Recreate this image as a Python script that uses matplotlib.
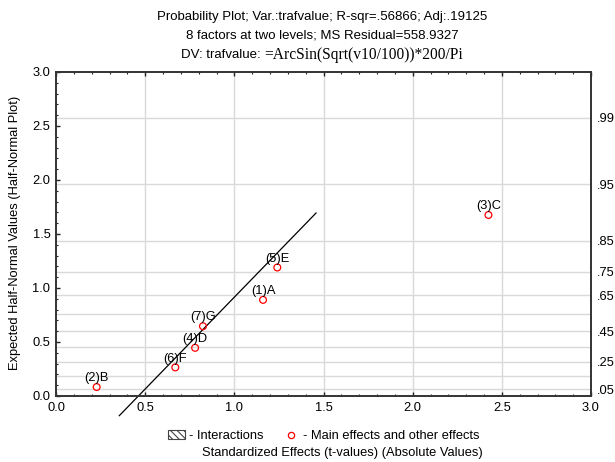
import matplotlib
matplotlib.use("Agg")
import matplotlib.pyplot as plt
from matplotlib.patches import Patch
from matplotlib.lines import Line2D
from matplotlib.ticker import MultipleLocator, FormatStrFormatter
from statistics import NormalDist

plt.rcParams['font.family'] = ['Liberation Sans', 'DejaVu Sans']
plt.rcParams['hatch.linewidth'] = 0.8

# ---- data ----
effect_labels = ["(1)A", "(2)B", "(3)C", "(4)D", "(5)E", "(6)F", "(7)G"]
t_abs = [1.161, 0.228, 2.425, 0.780, 1.241, 0.669, 0.824]
expected = [0.890, 0.083, 1.676, 0.446, 1.190, 0.265, 0.646]
fit_x = [0.355, 1.458]
fit_y = [-0.182, 1.694]
grid_probs = [.05, .15, .25, .35, .45, .55, .65, .75, .85, .95, .99]
label_probs = [.05, .25, .45, .65, .75, .85, .95, .99]
label_texts = [".05", ".25", ".45", ".65", ".75", ".85", ".95", ".99"]

title1 = "Probability Plot; Var.:trafvalue; R-sqr=.56866; Adj:.19125"
title2 = "8 factors at two levels; MS Residual=558.9327"
title3a = "DV: trafvalue: "
title3b = "=ArcSin(Sqrt(v10/100))*200/Pi"
xlabel = "Standardized Effects (t-values) (Absolute Values)"
ylabel = "Expected Half-Normal Values (Half-Normal Plot)"

FS = 9.3
TFS = 9.5

def hn(p):
    return NormalDist().inv_cdf((1 + p) / 2)

W, H = 615, 462
fig = plt.figure(figsize=(W/100, H/100), dpi=100)
ax = fig.add_axes([56/W, 1-396/H, (591-56)/W, (396-72)/H])
ax.set_xlim(0, 3)
ax.set_ylim(0, 3)

grid_c = '#d9d9d9'
for p in grid_probs:
    ax.axhline(hn(p), color=grid_c, lw=1.0, zorder=0)
for xv in [0.5, 1.0, 1.5, 2.0, 2.5]:
    ax.axvline(xv, color=grid_c, lw=1.0, zorder=0)

ax.plot(fit_x, fit_y, color='black', lw=0.9, clip_on=False, zorder=2)
ax.scatter(t_abs, expected, s=24, facecolors='none', edgecolors='red',
           linewidths=0.9, zorder=3)
for lab, xv, yv in zip(effect_labels, t_abs, expected):
    ax.annotate(lab, (xv, yv), xytext=(0, 2.0), textcoords='offset points',
                ha='center', va='bottom', fontsize=FS, zorder=4)

ax.xaxis.set_major_locator(MultipleLocator(0.5))
ax.xaxis.set_minor_locator(MultipleLocator(0.1))
ax.yaxis.set_major_locator(MultipleLocator(0.5))
ax.yaxis.set_minor_locator(MultipleLocator(0.1))
ax.xaxis.set_major_formatter(FormatStrFormatter('%.1f'))
ax.yaxis.set_major_formatter(FormatStrFormatter('%.1f'))
ax.tick_params(which='both', direction='in', top=True, right=True,
               labelsize=FS, color='#222222', pad=4)
ax.tick_params(which='major', length=3, width=1)
ax.tick_params(which='minor', length=1.6, width=0.8)
for sp in ax.spines.values():
    sp.set_linewidth(1.4)
    sp.set_color('#333333')

ax2 = ax.twinx()
ax2.set_ylim(0, 3)
ax2.set_yticks([hn(p) for p in label_probs])
ax2.set_yticklabels(label_texts)
ax2.tick_params(axis='y', length=0, labelsize=FS, pad=4.3)
for sp in ax2.spines.values():
    sp.set_visible(False)

fig.text(15/W, 1-233/H, ylabel, rotation=90, ha='center', va='center',
         fontsize=FS)

cx = 322
fig.text(cx/W, 1-17/H, title1, ha='center', va='center', fontsize=TFS)
fig.text(cx/W, 1-36/H, title2, ha='center', va='center', fontsize=TFS)
t3a = fig.text(cx/W, 1-55/H, title3a, ha='right', va='center', fontsize=TFS)
t3b = fig.text(cx/W, 1-55/H, title3b, ha='left', va='center', fontsize=11.2,
               family=['Liberation Serif', 'DejaVu Serif'])
fig.canvas.draw()
r = fig.canvas.get_renderer()
wa = t3a.get_window_extent(r).width
wb = t3b.get_window_extent(r).width
left = cx - (wa + wb)/2
t3a.set_x((left + wa)/W)
t3b.set_x((left + wa)/W)

handles = [Patch(facecolor='white', edgecolor='#444444', hatch='\\\\\\\\\\', lw=0.8),
           Line2D([], [], ls='none', marker='o', ms=4.5, mfc='none', mec='red', mew=0.9)]
fig.legend(handles, ["- Interactions", "- Main effects and other effects"],
           loc='center', bbox_to_anchor=(324/W, 1-436/H), ncol=2,
           frameon=False, fontsize=FS, handlelength=1.3, handleheight=0.7,
           handletextpad=0.3, columnspacing=1.5, borderpad=0, borderaxespad=0)
fig.text(342/W, 1-453/H, xlabel, ha='center', va='center', fontsize=FS)

fig.savefig("out.png", dpi=100)
